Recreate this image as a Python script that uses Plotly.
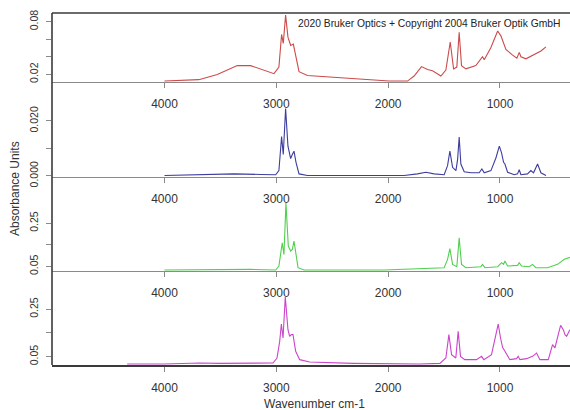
import plotly.graph_objects as go

# ---------------- data ----------------
red_wn = [4000, 3693, 3528, 3349, 3230, 3111, 3021, 2977, 2953, 2938, 2917, 2896, 2872, 2848,
          2827, 2797, 2722, 2484, 2185, 1992, 1827, 1768, 1702, 1648, 1603, 1529, 1484, 1445,
          1415, 1386, 1365, 1344, 1305, 1216, 1156, 1141, 1081, 1021, 992, 947, 887, 849, 828,
          813, 768, 694, 634, 589]
red_ab = [0.0123, 0.0139, 0.0197, 0.0299, 0.0299, 0.0246, 0.0207, 0.0282, 0.0654, 0.0552, 0.0874,
          0.0623, 0.0529, 0.0544, 0.0419, 0.0230, 0.0187, 0.0164, 0.0139, 0.0123, 0.0123, 0.0180,
          0.0288, 0.0254, 0.0241, 0.0180, 0.0248, 0.0568, 0.0262, 0.0282, 0.0678, 0.0299, 0.0262,
          0.0299, 0.0400, 0.0366, 0.0505, 0.0693, 0.0638, 0.0482, 0.0419, 0.0383, 0.0450, 0.0400,
          0.0376, 0.0427, 0.0466, 0.0513]

blue_wn = [4000, 3679, 3379, 3140, 3006, 2977, 2953, 2938, 2917, 2896, 2872, 2857, 2842, 2824,
           2797, 2722, 2334, 1857, 1738, 1663, 1589, 1499, 1469, 1448, 1424, 1394, 1379, 1365,
           1350, 1320, 1260, 1186, 1162, 1141, 1081, 1036, 1006, 986, 968, 956, 932, 873, 843,
           828, 813, 754, 724, 700, 664, 634, 589]
blue_ab = [0.0001, 0.0004, 0.0007, 0.0005, 0.0004, 0.0019, 0.0143, 0.0078, 0.0245, 0.0108, 0.0063,
           0.0078, 0.0090, 0.0049, 0.0007, 0.0001, 0.0000, 0.0001, 0.0007, 0.0013, 0.0007, 0.0004,
           0.0037, 0.0090, 0.0031, 0.0019, 0.0060, 0.0141, 0.0043, 0.0015, 0.0011, 0.0011, 0.0025,
           0.0011, 0.0019, 0.0066, 0.0108, 0.0084, 0.0049, 0.0043, 0.0013, 0.0004, 0.0007, 0.0022,
           0.0004, 0.0007, 0.0019, 0.0011, 0.0043, 0.0011, 0.0001]

green_wn = [4000, 3528, 3230, 3006, 2977, 2947, 2932, 2914, 2893, 2872, 2857, 2842, 2827, 2806,
            2752, 2036, 1738, 1499, 1469, 1448, 1424, 1386, 1365, 1344, 1305, 1171, 1156, 1135,
            1021, 986, 968, 956, 932, 887, 843, 828, 807, 739, 709, 679, 575, 485, 425, 366]
green_ab = [0.0333, 0.0364, 0.0364, 0.0333, 0.0518, 0.1597, 0.1053, 0.3430, 0.1443, 0.1212, 0.1289,
            0.1674, 0.1053, 0.0441, 0.0333, 0.0333, 0.0395, 0.0441, 0.0827, 0.1320, 0.0595, 0.0488,
            0.1828, 0.0595, 0.0441, 0.0488, 0.0595, 0.0441, 0.0488, 0.0673, 0.0595, 0.0750, 0.0518,
            0.0549, 0.0549, 0.0673, 0.0518, 0.0488, 0.0595, 0.0441, 0.0441, 0.0595, 0.0827, 0.0935]

mag_wn = [4334, 4000, 3687, 3508, 3030, 2994, 2970, 2955, 2940, 2920, 2896, 2881, 2866, 2851,
          2827, 2791, 2702, 2314, 1717, 1538, 1484, 1457, 1433, 1395, 1374, 1353, 1315, 1210,
          1165, 1144, 1076, 1037, 1016, 995, 977, 956, 912, 852, 837, 822, 762, 709, 673, 643,
          568, 530, 509, 479, 458, 434, 419, 404, 375]
mag_ab = [0.0192, 0.0192, 0.0234, 0.0220, 0.0234, 0.0445, 0.1148, 0.1876, 0.1287, 0.3020, 0.1637,
          0.1358, 0.1428, 0.1428, 0.0727, 0.0375, 0.0276, 0.0220, 0.0192, 0.0220, 0.0445, 0.1428,
          0.0585, 0.0445, 0.1568, 0.0515, 0.0375, 0.0375, 0.0515, 0.0375, 0.0585, 0.1428, 0.1876,
          0.1287, 0.0895, 0.0727, 0.0375, 0.0417, 0.0515, 0.0375, 0.0417, 0.0515, 0.0655, 0.0375,
          0.0375, 0.1006, 0.0866, 0.1428, 0.1820, 0.1637, 0.1428, 0.1358, 0.1637]

x_ticks = [4000, 3000, 2000, 1000]
x_tick_labels = ["4000", "3000", "2000", "1000"]

y1_ticks = [0.02, 0.04, 0.06, 0.08]
y1_labels = ["0.02", "", "", "0.08"]
y2_ticks = [0.000, 0.010, 0.020]
y2_labels = ["0.000", "", "0.020"]
y3_ticks = [0.05, 0.15, 0.25]
y3_labels = ["0.05", "", "0.25"]
y4_ticks = [0.05, 0.15, 0.25]
y4_labels = ["0.05", "", "0.25"]

# ---------------- figure ----------------
FONT = "Liberation Sans, Arial, sans-serif"
DARK = "#3a3a3a"
GREY = "#8a8a8a"

series = [
    (red_wn, red_ab, "#cc4a4a"),
    (blue_wn, blue_ab, "#3d3d9e"),
    (green_wn, green_ab, "#4fd04f"),
    (mag_wn, mag_ab, "#cc44cc"),
]
y_ranges = [[0.01125, 0.0898], [-0.00025, 0.0249], [0.0287, 0.348], [0.015, 0.3056]]
y_tickinfo = [(y1_ticks, y1_labels), (y2_ticks, y2_labels), (y3_ticks, y3_labels), (y4_ticks, y4_labels)]
domains = [[0.804, 1.0], [0.5355, 0.7315], [0.267, 0.463], [0.0, 0.196]]

fig = go.Figure()
layout = {}
for i, (wn, ab, col) in enumerate(series):
    n = "" if i == 0 else str(i + 1)
    fig.add_trace(go.Scatter(x=wn, y=ab, mode="lines", line=dict(color=col, width=1.1),
                             xaxis="x" + n, yaxis="y" + n, showlegend=False, hoverinfo="skip"))
    last = (i == 3)
    layout["xaxis" + n] = dict(
        range=[5006, 374], anchor="y" + n, domain=[0, 1],
        tickvals=x_ticks, ticktext=x_tick_labels, ticks="outside", ticklen=5,
        tickcolor=GREY, tickwidth=1, ticklabelstandoff=6,
        showline=True, linecolor=DARK if last else GREY, linewidth=1.6 if last else 1,
        showgrid=False, zeroline=False,
        tickfont=dict(family=FONT, size=12, color="#333333"),
    )
    tv, tt = y_tickinfo[i]
    layout["yaxis" + n] = dict(
        range=y_ranges[i], anchor="x" + n, domain=domains[i],
        tickvals=tv, ticktext=tt, ticks="outside", ticklen=5, tickcolor=GREY,
        tickangle=-90, ticklabelstandoff=4,
        showline=False, showgrid=False, zeroline=False,
        tickfont=dict(family=FONT, size=10.5, color="#333333"),
    )

fig.update_layout(
    width=570, height=410,
    margin=dict(l=52, r=0, t=13, b=45),
    paper_bgcolor="white", plot_bgcolor="white",
    **layout,
)

# outer frame lines (left + top)
fig.add_shape(type="line", xref="paper", yref="paper", x0=0, x1=0, y0=0, y1=1,
              line=dict(color=DARK, width=1.6))
fig.add_shape(type="line", xref="paper", yref="paper", x0=0, x1=1, y0=1, y1=1,
              line=dict(color=DARK, width=1.6))

fig.add_annotation(text="Absorbance Units", xref="paper", yref="paper", x=-0.0714, y=0.5,
                   textangle=-90, showarrow=False, xanchor="center", yanchor="middle",
                   font=dict(family=FONT, size=12, color="#333333"))
fig.add_annotation(text="Wavenumber cm-1", xref="paper", yref="paper", x=0.507, y=-0.111,
                   showarrow=False, xanchor="center", yanchor="middle",
                   font=dict(family=FONT, size=12, color="#333333"))
fig.add_annotation(text="2020 Bruker Optics + Copyright 2004 Bruker Optik GmbH", xref="paper",
                   yref="paper", x=0.472, y=0.969, showarrow=False, xanchor="left",
                   yanchor="middle", font=dict(family=FONT, size=10.3, color="#222222"))

fig.write_html("out.html", config={"displayModeBar": False},
               post_script="document.body.style.margin='0';document.body.style.overflow='hidden';")
